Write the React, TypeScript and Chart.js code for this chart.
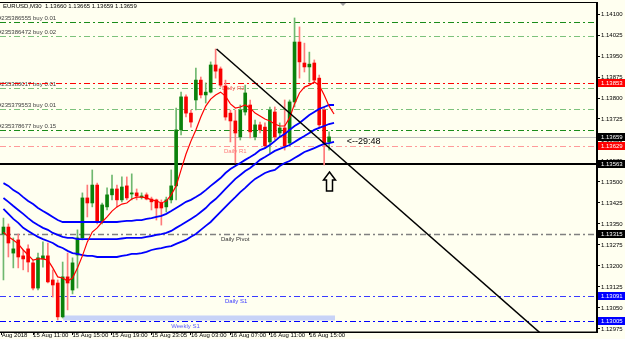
import React, { useEffect, useRef } from 'react';
import { Chart, registerables } from 'chart.js';

Chart.register(...registerables);

// ---------------- data ----------------
const opens = [
  1.13314, 1.13339, 1.13246, 1.13293, 1.13236, 1.13261, 1.13211, 1.13121, 1.13225, 1.13236,
  1.13150, 1.13139, 1.13018, 1.13161, 1.13114, 1.13239, 1.13300, 1.13443, 1.13425, 1.13489,
  1.13357, 1.13411, 1.13454, 1.13475, 1.13436, 1.13486, 1.13457, 1.13461, 1.13446, 1.13454,
  1.13439, 1.13436, 1.13425, 1.13411, 1.13436, 1.13486, 1.13686, 1.13804, 1.13746, 1.13793,
  1.13864, 1.13811, 1.13821, 1.13918, 1.13904, 1.13843, 1.13746, 1.13718, 1.13661, 1.13750,
  1.13775, 1.13661, 1.13704, 1.13696, 1.13643, 1.13750, 1.13675, 1.13693, 1.13639, 1.13786,
  1.14000, 1.13925, 1.13911, 1.13925, 1.13871, 1.13757, 1.13643,
];
const highs = [
  1.13371, 1.13350, 1.13300, 1.13314, 1.13257, 1.13275, 1.13221, 1.13246, 1.13286, 1.13282,
  1.13186, 1.13150, 1.13214, 1.13246, 1.13229, 1.13329, 1.13461, 1.13489, 1.13543, 1.13496,
  1.13425, 1.13479, 1.13525, 1.13489, 1.13518, 1.13518, 1.13529, 1.13475, 1.13461, 1.13461,
  1.13446, 1.13439, 1.13436, 1.13446, 1.13543, 1.13764, 1.13821, 1.13811, 1.13757, 1.13907,
  1.13875, 1.13854, 1.13929, 1.13975, 1.13911, 1.13864, 1.13757, 1.13757, 1.13775, 1.13846,
  1.13793, 1.13721, 1.13714, 1.13711, 1.13768, 1.13768, 1.13711, 1.13793, 1.13793, 1.14086,
  1.14054, 1.13996, 1.13964, 1.13936, 1.13882, 1.13768, 1.13679,
];
const lows = [
  1.13150, 1.13232, 1.13193, 1.13193, 1.13186, 1.13179, 1.13114, 1.13114, 1.13196, 1.13139,
  1.13089, 1.13007, 1.13014, 1.13043, 1.13100, 1.13121, 1.13293, 1.13375, 1.13411, 1.13350,
  1.13350, 1.13400, 1.13436, 1.13411, 1.13429, 1.13436, 1.13436, 1.13436, 1.13439, 1.13436,
  1.13400, 1.13364, 1.13346, 1.13393, 1.13425, 1.13436, 1.13668, 1.13732, 1.13696, 1.13757,
  1.13800, 1.13782, 1.13818, 1.13871, 1.13839, 1.13721, 1.13643, 1.13568, 1.13650, 1.13739,
  1.13657, 1.13650, 1.13675, 1.13621, 1.13604, 1.13650, 1.13661, 1.13614, 1.13629, 1.13768,
  1.13871, 1.13893, 1.13857, 1.13854, 1.13693, 1.13561, 1.13614,
];
const closes = [
  1.13339, 1.13282, 1.13261, 1.13232, 1.13225, 1.13214, 1.13121, 1.13229, 1.13236, 1.13143,
  1.13132, 1.13018, 1.13161, 1.13139, 1.13211, 1.13300, 1.13443, 1.13425, 1.13489, 1.13357,
  1.13418, 1.13454, 1.13475, 1.13436, 1.13482, 1.13443, 1.13461, 1.13450, 1.13450, 1.13439,
  1.13429, 1.13407, 1.13407, 1.13436, 1.13486, 1.13686, 1.13804, 1.13746, 1.13714, 1.13864,
  1.13811, 1.13821, 1.13918, 1.13896, 1.13846, 1.13732, 1.13718, 1.13675, 1.13757, 1.13818,
  1.13679, 1.13704, 1.13686, 1.13629, 1.13757, 1.13661, 1.13693, 1.13629, 1.13786, 1.14000,
  1.13929, 1.13911, 1.13921, 1.13864, 1.13704, 1.13639, 1.13661,
];
const maFast = [
  1.13321, 1.13304, 1.13293, 1.13279, 1.13257, 1.13239, 1.13221, 1.13225, 1.13225, 1.13221,
  1.13193, 1.13161, 1.13157, 1.13146, 1.13157, 1.13193, 1.13236, 1.13286, 1.13321, 1.13336,
  1.13357, 1.13375, 1.13396, 1.13411, 1.13421, 1.13425, 1.13439, 1.13446, 1.13446, 1.13443,
  1.13436, 1.13432, 1.13425, 1.13432, 1.13454, 1.13486, 1.13543, 1.13600, 1.13646, 1.13686,
  1.13732, 1.13771, 1.13796, 1.13811, 1.13821, 1.13807, 1.13779, 1.13764, 1.13768, 1.13775,
  1.13764, 1.13746, 1.13736, 1.13725, 1.13718, 1.13707, 1.13700, 1.13700, 1.13729, 1.13779,
  1.13818, 1.13839, 1.13846, 1.13857, 1.13846, 1.13811, 1.13771, 1.13743,
];
const bandUpper = [
  1.13496, 1.13486, 1.13471, 1.13461, 1.13446, 1.13432, 1.13421, 1.13407, 1.13396, 1.13386,
  1.13375, 1.13364, 1.13357, 1.13357, 1.13357, 1.13357, 1.13357, 1.13357, 1.13357, 1.13357,
  1.13357, 1.13357, 1.13357, 1.13357, 1.13359, 1.13361, 1.13361, 1.13364, 1.13364, 1.13368,
  1.13371, 1.13375, 1.13379, 1.13386, 1.13396, 1.13407, 1.13418, 1.13429, 1.13436, 1.13446,
  1.13457, 1.13471, 1.13486, 1.13500, 1.13514, 1.13532, 1.13546, 1.13557, 1.13568, 1.13579,
  1.13589, 1.13600, 1.13614, 1.13621, 1.13632, 1.13646, 1.13661, 1.13671, 1.13686, 1.13700,
  1.13711, 1.13725, 1.13739, 1.13750, 1.13761, 1.13768, 1.13775, 1.13775,
];
const bandMid = [
  1.13443, 1.13429, 1.13414, 1.13400, 1.13386, 1.13371, 1.13357, 1.13346, 1.13336, 1.13329,
  1.13318, 1.13311, 1.13304, 1.13300, 1.13300, 1.13296, 1.13296, 1.13296, 1.13296, 1.13296,
  1.13296, 1.13296, 1.13296, 1.13296, 1.13298, 1.13300, 1.13300, 1.13300, 1.13300, 1.13304,
  1.13307, 1.13311, 1.13314, 1.13318, 1.13325, 1.13336, 1.13346, 1.13357, 1.13368, 1.13379,
  1.13393, 1.13407, 1.13425, 1.13439, 1.13457, 1.13475, 1.13493, 1.13511, 1.13525, 1.13539,
  1.13550, 1.13564, 1.13579, 1.13589, 1.13600, 1.13611, 1.13618, 1.13625, 1.13632, 1.13643,
  1.13654, 1.13664, 1.13675, 1.13686, 1.13693, 1.13700, 1.13707, 1.13711,
];
const bandLower = [
  1.13404, 1.13386, 1.13368, 1.13354, 1.13336, 1.13325, 1.13314, 1.13304, 1.13296, 1.13289,
  1.13282, 1.13271, 1.13264, 1.13254, 1.13246, 1.13243, 1.13239, 1.13236, 1.13236, 1.13232,
  1.13232, 1.13232, 1.13232, 1.13232, 1.13236, 1.13239, 1.13243, 1.13243, 1.13246, 1.13250,
  1.13257, 1.13261, 1.13264, 1.13268, 1.13271, 1.13279, 1.13286, 1.13293, 1.13304, 1.13314,
  1.13329, 1.13343, 1.13357, 1.13375, 1.13393, 1.13411, 1.13429, 1.13446, 1.13464, 1.13479,
  1.13496, 1.13511, 1.13521, 1.13532, 1.13539, 1.13543, 1.13557, 1.13568, 1.13575, 1.13586,
  1.13596, 1.13607, 1.13614, 1.13621, 1.13629, 1.13636, 1.13639, 1.13643,
];

const xTickPos = [-0.35, 6, 14, 22, 30, 38, 46, 54, 62];
const xTickLabels = [
  'Aug 2018', '15 Aug 11:00', '15 Aug 15:00', '15 Aug 19:00', '15 Aug 23:05',
  '16 Aug 03:00', '16 Aug 07:00', '16 Aug 11:00', '16 Aug 15:00',
];
const yTickValues = [
  1.141, 1.14025, 1.1395, 1.13875, 1.138, 1.13725, 1.1365, 1.13575,
  1.135, 1.13425, 1.1335, 1.13275, 1.132, 1.13125, 1.1305, 1.12975,
];

const trendX = [43.2, 110.5];
const trendY = [1.13975, 1.12934];

const orderPrices = [1.14071, 1.14021, 1.13836, 1.1376, 1.13686];
const orderTexts = [
  '#235386555 buy 0.01', '#235386472 buy 0.02', '#235380017 buy 0.01',
  '#235379553 buy 0.01', '#235378677 buy 0.15',
];
const pivotPrices = [1.13853, 1.13629, 1.13315, 1.13091, 1.13005];
const pivotTexts = ['Daily R2', 'Daily R1', 'Daily Pivot', 'Daily S1', 'Weekly S1'];
const pivotTextX = [44.3, 44.7, 44.1, 44.9, 34.0];
const bidPrice = 1.13659;
const supportPrice = 1.13563;
const axisMarkPrices = [1.13853, 1.13659, 1.13629, 1.13563, 1.13315, 1.13091, 1.13005];
const zoneStart = 12.1;
const zoneEnd = 67.2;
const zoneLow = 1.13005;
const zoneHigh = 1.13023;
const titleText = 'EURUSD,M30  1.13660 1.13665 1.13659 1.13659';
const timerText = '<--29:48';
const timerX = 69.6;
const timerPrice = 1.13643;
const arrowX = 66;
const arrowPrice = 1.13536;

// ---------------- styles ----------------
const BG = '#FFFFF0';
const FONT = '"Liberation Sans", Arial, sans-serif';
const orderColors = ['#1a8c1a', '#7cc27c', '#7cc27c', '#7cc27c', '#1a8c1a'];
const pivotColors = ['#ff0000', '#ff9a9a', '#808080', '#3a3aff', '#0000ff'];
const pivotTextColors = ['#ff5a5a', '#ff7a7a', '#303030', '#3a3aff', '#5a5aff'];
const axisMarkColors = ['#ff0000', '#000000', '#ff0000', '#000000', '#000000', '#0000ff', '#0000ff'];
const DASH = [6, 3, 2, 3];

const mt4Plugin = {
  id: 'mt4',
  beforeDraw(chart: any) {
    const { ctx, width, height } = chart;
    ctx.save();
    ctx.fillStyle = BG;
    ctx.fillRect(0, 0, width, height);
    ctx.restore();
  },
  beforeDatasetsDraw(chart: any) {
    const { ctx, chartArea: a, scales } = chart;
    const x = scales.x, y = scales.y;
    ctx.save();
    ctx.beginPath();
    ctx.rect(a.left, a.top, a.right - a.left, a.bottom - a.top);
    ctx.clip();
    // zone
    const zx0 = x.getPixelForValue(zoneStart), zx1 = x.getPixelForValue(zoneEnd);
    const zy0 = y.getPixelForValue(zoneHigh), zy1 = y.getPixelForValue(zoneLow);
    ctx.fillStyle = '#c8d3f7';
    ctx.fillRect(zx0, zy0, zx1 - zx0, zy1 - zy0);

    const hline = (p: number, color: string, w: number, dash: number[]) => {
      const py = Math.round(y.getPixelForValue(p)) + (w % 2 ? 0.5 : 0);
      ctx.strokeStyle = color;
      ctx.lineWidth = w;
      ctx.setLineDash(dash);
      ctx.beginPath();
      ctx.moveTo(a.left, py);
      ctx.lineTo(a.right, py);
      ctx.stroke();
      return py;
    };
    ctx.font = `6px ${FONT}`;
    orderPrices.forEach((p, k) => {
      const py = hline(p, orderColors[k], 1, DASH);
      ctx.setLineDash([]);
      ctx.fillStyle = '#404040';
      ctx.textBaseline = 'bottom';
      ctx.textAlign = 'left';
      ctx.fillText(orderTexts[k], a.left - 2, py - 1);
    });
    pivotPrices.forEach((p, k) => {
      const py = hline(p, pivotColors[k], k === 2 ? 1.5 : 1, DASH);
      ctx.setLineDash([]);
      ctx.fillStyle = pivotTextColors[k];
      ctx.textBaseline = 'top';
      ctx.textAlign = 'left';
      ctx.fillText(pivotTexts[k], x.getPixelForValue(pivotTextX[k]), py + 2);
    });
    hline(bidPrice, '#bdbdbd', 1, []);
    hline(supportPrice, '#000000', 2, []);
    ctx.restore();
  },
  afterDraw(chart: any) {
    const { ctx, chartArea: a, scales, width } = chart;
    const x = scales.x, y = scales.y;
    ctx.save();
    // border
    ctx.strokeStyle = '#000';
    ctx.lineWidth = 1;
    ctx.setLineDash([]);
    ctx.strokeRect(a.left - 0.5, a.top + 0.5, a.right - a.left, a.bottom - a.top - 0.5);
    // title
    ctx.font = `6px ${FONT}`;
    ctx.fillStyle = '#000';
    ctx.textBaseline = 'middle';
    ctx.textAlign = 'left';
    ctx.fillText(titleText, 3, 6.5);
    // chart shift marker
    ctx.fillStyle = '#a0a0a0';
    ctx.beginPath();
    ctx.moveTo(340, a.top + 1);
    ctx.lineTo(346, a.top + 1);
    ctx.lineTo(343, a.top + 4);
    ctx.closePath();
    ctx.fill();
    // timer
    ctx.font = `9px ${FONT}`;
    ctx.fillStyle = '#000';
    ctx.fillText(timerText, x.getPixelForValue(timerX), y.getPixelForValue(timerPrice));
    // arrow
    const ax = Math.round(x.getPixelForValue(arrowX)) + 0.5;
    const ay = Math.round(y.getPixelForValue(arrowPrice));
    ctx.beginPath();
    ctx.moveTo(ax, ay);
    ctx.lineTo(ax + 6, ay + 8);
    ctx.lineTo(ax + 3, ay + 8);
    ctx.lineTo(ax + 3, ay + 19);
    ctx.lineTo(ax - 3, ay + 19);
    ctx.lineTo(ax - 3, ay + 8);
    ctx.lineTo(ax - 6, ay + 8);
    ctx.closePath();
    ctx.fillStyle = BG;
    ctx.fill();
    ctx.strokeStyle = '#000';
    ctx.lineWidth = 1.5;
    ctx.stroke();
    // axis price marks
    ctx.font = `6px ${FONT}`;
    axisMarkPrices.forEach((p, k) => {
      const py = Math.round(y.getPixelForValue(p));
      ctx.fillStyle = axisMarkColors[k];
      ctx.fillRect(a.right + 1, py - 4, width - a.right - 1, 8);
      ctx.fillStyle = '#fff';
      ctx.textBaseline = 'middle';
      ctx.fillText(p.toFixed(5), a.right + 4, py + 0.5);
    });
    ctx.restore();
  },
};

export default function App() {
  const ref = useRef<HTMLCanvasElement>(null);
  useEffect(() => {
    document.body.style.margin = '0';
    const n = opens.length;
    const idx = opens.map((_, i) => i);
    const up = idx.map((i) => closes[i] >= opens[i]);
    const wickData = idx.map((i) => ({ x: i, y: [lows[i], highs[i]] }));
    const bodyData = idx.map((i) => ({ x: i, y: [opens[i], closes[i]] }));
    const toPts = (arr: number[]) => arr.map((v, i) => ({ x: i, y: v }));
    const chart = new Chart(ref.current as HTMLCanvasElement, {
      type: 'bar',
      data: {
        datasets: [
          {
            type: 'line', data: trendX.map((v, i) => ({ x: v, y: trendY[i] })),
            borderColor: '#000', borderWidth: 1.5, pointRadius: 0, order: 0,
          } as any,
          {
            type: 'line', data: toPts(maFast), borderColor: '#ff0000', borderWidth: 1.2,
            pointRadius: 0, order: 1,
          } as any,
          {
            type: 'line', data: toPts(bandUpper), borderColor: '#0000ff', borderWidth: 1.8,
            pointRadius: 0, order: 2,
          } as any,
          {
            type: 'line', data: toPts(bandMid), borderColor: '#0000ff', borderWidth: 1.8,
            pointRadius: 0, order: 2,
          } as any,
          {
            type: 'line', data: toPts(bandLower), borderColor: '#0000ff', borderWidth: 1.8,
            pointRadius: 0, order: 2,
          } as any,
          {
            type: 'bar', data: bodyData as any, grouped: false, barThickness: 3,
            minBarLength: 1, borderWidth: 0, borderSkipped: false,
            backgroundColor: up.map((u) => (u ? '#0b820b' : '#f80000')), order: 3,
          } as any,
          {
            type: 'bar', data: wickData as any, grouped: false, barThickness: 1,
            borderWidth: 0, borderSkipped: false,
            backgroundColor: up.map((u) => (u ? '#6fb86f' : '#ff7a7a')), order: 4,
          } as any,
        ],
      },
      options: {
        responsive: false,
        animation: false,
        layout: { padding: { top: 2, left: 0, right: 0, bottom: 0 } },
        plugins: { legend: { display: false }, tooltip: { enabled: false } },
        scales: {
          x: {
            type: 'linear', min: -0.7, max: 120.3, offset: false, bounds: 'data',
            grid: { display: true, drawOnChartArea: false, drawTicks: true, tickLength: 3, color: '#000', offset: false },
            border: { display: true, color: '#000' },
            afterBuildTicks: (s: any) => { s.ticks = xTickPos.map((v) => ({ value: v })); },
            afterFit: (s: any) => { s.height = 7; },
            ticks: {
              autoSkip: false, maxRotation: 0, minRotation: 0, align: 'start', padding: -3,
              color: '#000', font: { family: FONT, size: 6, lineHeight: 1.2 },
              callback: (v: any) => { const k = xTickPos.indexOf(Number(v)); return k >= 0 ? xTickLabels[k] : ''; },
            },
          },
          y: {
            type: 'linear', position: 'right', min: 1.12964, max: 1.14143, bounds: 'data',
            grid: { display: true, drawOnChartArea: false, drawTicks: true, tickLength: 3, color: '#000' },
            border: { display: true, color: '#000' },
            afterBuildTicks: (s: any) => { s.ticks = yTickValues.map((v) => ({ value: v })); },
            afterFit: (s: any) => { s.width = 28; },
            ticks: {
              autoSkip: false, padding: 1, color: '#000',
              font: { family: FONT, size: 6, lineHeight: 0.1 },
              callback: (v: any) => Number(v).toFixed(5),
            },
          },
        },
      } as any,
      plugins: [mt4Plugin],
    });
    return () => chart.destroy();
  }, []);
  return (
    <div style={{ width: 625, height: 339, position: 'relative' }}>
      <canvas ref={ref} width={625} height={339} style={{ display: 'block', width: 625, height: 339 }} />
    </div>
  );
}
